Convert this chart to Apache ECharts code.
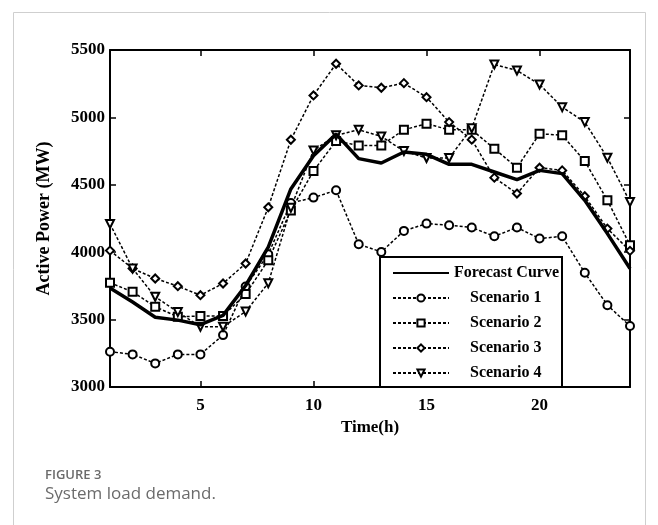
<!DOCTYPE html>
<html>
<head>
<meta charset="utf-8">
<script src="https://cdn.jsdelivr.net/npm/echarts@6/dist/echarts.min.js"></script>
<style>
  html, body { margin: 0; padding: 0; background: #fff; }
  #chart { width: 658px; height: 525px; }
</style>
</head>
<body>
<div id="chart"></div>
<script>
// hours 1..24
var hours = [1,2,3,4,5,6,7,8,9,10,11,12,13,14,15,16,17,18,19,20,21,22,23,24];
var xTicks = [5, 10, 15, 20];

var forecast  = [3735,3630,3518,3496,3462,3531,3753,4037,4469,4716,4876,4694,4662,4743,4726,4652,4652,4595,4538,4607,4583,4385,4138,3879];
var scenario1 = [3262,3242,3175,3242,3242,3385,3745,3985,4365,4405,4459,4059,4002,4158,4212,4200,4183,4118,4183,4101,4118,3847,3607,3452];
var scenario2 = [3773,3706,3595,3521,3526,3526,3690,3940,4310,4602,4825,4792,4792,4908,4953,4908,4908,4768,4627,4879,4867,4676,4385,4052];
var scenario3 = [4012,3879,3805,3748,3681,3768,3916,4333,4834,5163,5398,5237,5220,5254,5150,4965,4835,4553,4435,4627,4607,4415,4175,4010];
var scenario4 = [4210,3879,3669,3556,3447,3447,3560,3770,4330,4755,4867,4908,4859,4750,4699,4699,4920,5393,5348,5244,5076,4965,4701,4373];

function pairs(vals) {
  var out = [];
  for (var i = 0; i < hours.length; i++) {
    out.push([hours[i], vals[i]]);
  }
  return out;
}

var chart = echarts.init(document.getElementById('chart'));

var serif = '"Liberation Serif", "Times New Roman", serif';
var dash = [3, 2];

function scenario(name, vals, symbol, size, rotate) {
  return {
    name: name,
    type: 'line',
    data: pairs(vals),
    symbol: symbol,
    symbolSize: size,
    symbolRotate: rotate || 0,
    showAllSymbol: true,
    lineStyle: { color: '#000', width: 1.5, type: dash },
    itemStyle: { color: '#fff', borderColor: '#000', borderWidth: 2 },
    z: 2
  };
}

var option = {
  animation: false,
  grid: { left: 110, right: 28, top: 50, bottom: 138 },
  graphic: [
    {
      type: 'rect',
      shape: { x: 13.5, y: 12.5, width: 632, height: 620 },
      style: { fill: 'none', stroke: '#cfcfcf', lineWidth: 1 },
      silent: true
    },
    {
      type: 'text', left: 45, top: 469,
      style: { text: 'FIGURE 3', fill: '#6b6b6b', font: '600 13px "Open Sans", sans-serif' }
    },
    {
      type: 'text', left: 45, top: 486,
      style: { text: 'System load demand.', fill: '#6b6b6b', font: '17px "Open Sans", sans-serif' }
    }
  ],
  legend: {
    orient: 'vertical',
    left: 380,
    top: 257,
    padding: [8, 3, 6, 12],
    itemWidth: 56,
    itemHeight: 9,
    itemGap: 9,
    itemTextGap: 0,
    borderColor: '#000',
    borderWidth: 2,
    backgroundColor: '#fff',
    data: [
      { name: 'Forecast Curve', itemStyle: { opacity: 0 } },
      'Scenario 1', 'Scenario 2', 'Scenario 3', 'Scenario 4'
    ],
    formatter: function (name) {
      return name === 'Forecast Curve' ? name : '    ' + name;
    },
    textStyle: { fontFamily: serif, fontWeight: 'bold', fontSize: 16, color: '#000' }
  },
  xAxis: [
    {
      type: 'value', min: 1, max: 24,
      name: 'Time(h)', nameLocation: 'middle', nameGap: 30,
      nameTextStyle: { fontFamily: serif, fontWeight: 'bold', fontSize: 17, color: '#000' },
      axisLine: { lineStyle: { color: '#000', width: 2 } },
      axisTick: { inside: true, length: 6, customValues: xTicks, lineStyle: { color: '#000', width: 1.5 } },
      axisLabel: { customValues: xTicks, fontFamily: serif, fontWeight: 'bold', fontSize: 17, color: '#000', margin: 10 },
      splitLine: { show: false }
    },
    {
      type: 'value', min: 1, max: 24, position: 'top',
      axisLine: { lineStyle: { color: '#000', width: 2 } },
      axisTick: { inside: true, length: 6, customValues: xTicks, lineStyle: { color: '#000', width: 1.5 } },
      axisLabel: { show: false },
      splitLine: { show: false }
    }
  ],
  yAxis: [
    {
      type: 'value', min: 3000, max: 5500, interval: 500,
      name: 'Active Power (MW)', nameLocation: 'middle', nameGap: 57,
      nameTextStyle: { fontFamily: serif, fontWeight: 'bold', fontSize: 18, color: '#000' },
      axisLine: { show: true, lineStyle: { color: '#000', width: 2 } },
      axisTick: { inside: true, length: 6, lineStyle: { color: '#000', width: 1.5 } },
      axisLabel: {
        fontFamily: serif, fontWeight: 'bold', fontSize: 17, color: '#000', margin: 5,
        formatter: function (v) { return String(v); }
      },
      splitLine: { show: false }
    },
    {
      type: 'value', min: 3000, max: 5500, interval: 500, position: 'right',
      axisLine: { show: true, lineStyle: { color: '#000', width: 2 } },
      axisTick: { show: true, inside: true, length: 6, lineStyle: { color: '#000', width: 1.5 } },
      axisLabel: { show: false },
      splitLine: { show: false }
    }
  ],
  series: [
    {
      name: 'Forecast Curve',
      type: 'line',
      data: pairs(forecast),
      symbol: 'none',
      lineStyle: { color: '#000', width: 3.5 },
      itemStyle: { color: '#000' },
      z: 3
    },
    scenario('Scenario 1', scenario1, 'circle', 8),
    scenario('Scenario 2', scenario2, 'rect', 8),
    scenario('Scenario 3', scenario3, 'diamond', 8),
    scenario('Scenario 4', scenario4, 'triangle', 8, 180)
  ]
};

chart.setOption(option);
</script>
</body>
</html>
